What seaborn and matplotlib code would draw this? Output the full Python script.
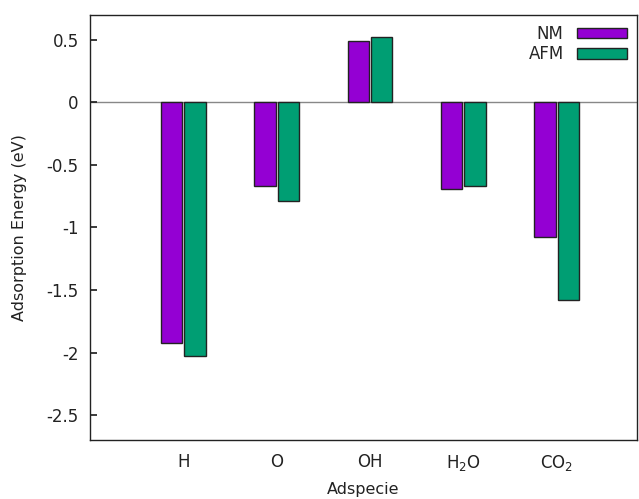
import matplotlib.pyplot as plt
import seaborn as sns
import pandas as pd

species = ['H', 'O', 'OH', r'$\mathregular{H_2O}$', r'$\mathregular{CO_2}$']
nm_energy = [-1.92, -0.665, 0.49, -0.69, -1.08]
afm_energy = [-2.03, -0.79, 0.527, -0.665, -1.58]

df = pd.DataFrame({
    'species': species * 2,
    'energy': nm_energy + afm_energy,
    'state': ['NM'] * len(species) + ['AFM'] * len(species),
})

sns.set_theme(style="ticks")
plt.rcParams['font.family'] = ['DejaVu Sans']

fig = plt.figure(figsize=(6.39, 4.99), dpi=100)
ax = fig.add_axes([0.1408, 0.1182, 0.8561, 0.8518])

sns.barplot(
    data=df, x='species', y='energy', hue='state',
    order=species, hue_order=['NM', 'AFM'],
    palette={'NM': '#9400D3', 'AFM': '#009E73'}, saturation=1,
    width=0.5, gap=0.08, edgecolor='#222222', linewidth=1.0,
    ax=ax,
)

ax.axhline(0, color='#888888', lw=1.0, zorder=0.5)
ax.set_xlim(-1, 4.86)
ax.set_ylim(-2.7, 0.7)
ax.set_yticks([0.5, 0, -0.5, -1, -1.5, -2, -2.5])
ax.set_yticklabels(['0.5', '0', '-0.5', '-1', '-1.5', '-2', '-2.5'])
ax.tick_params(axis='y', direction='in', length=5, labelsize=12, colors='#222222', pad=8)
ax.tick_params(axis='x', length=0, labelsize=12, colors='#222222', pad=9)
for s in ax.spines.values():
    s.set_color('#222222')
    s.set_linewidth(1.0)

ax.set_ylabel('Adsorption Energy (eV)', fontsize=11.5, color='#222222', labelpad=14)
ax.set_xlabel('Adspecie', fontsize=11.5, color='#222222', labelpad=7)

ax.legend(loc='upper right', frameon=False, markerfirst=False,
          handlelength=3.0, handleheight=0.6, fontsize=12,
          borderaxespad=0.2, labelspacing=0.15, handletextpad=0.8)

fig.savefig('out.png', dpi=100)
